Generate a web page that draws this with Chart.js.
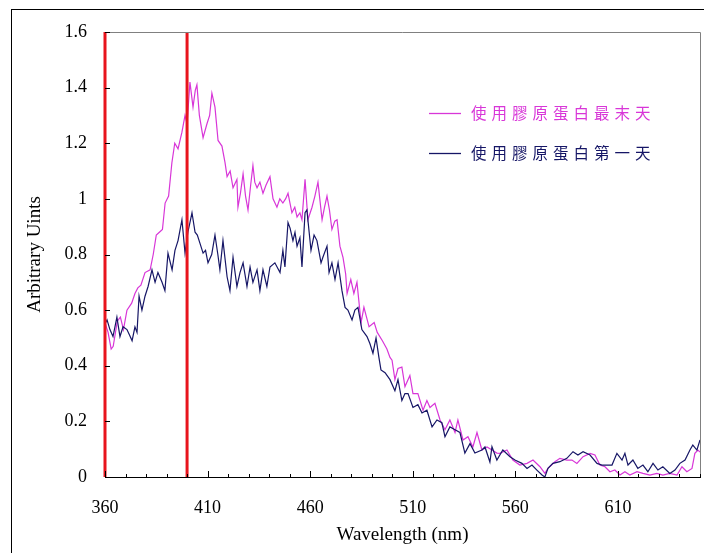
<!DOCTYPE html>
<html>
<head>
<meta charset="utf-8">
<script src="https://cdn.jsdelivr.net/npm/chart.js@4/dist/chart.umd.min.js"></script>
<style>
  html, body { margin: 0; padding: 0; background: #ffffff; }
  #wrap { width: 704px; height: 553px; }
</style>
</head>
<body>
<div id="wrap"><canvas id="c" width="704" height="553"></canvas></div>
<script>
// ---- data ----
const seriesNames = ['使用膠原蛋白最末天', '使用膠原蛋白第一天'];

const wlLast = [360,361.5,363,364,366,367.5,369,370.7,373,374.6,376,377.5,379.5,382,383.5,385,386.5,388,389.3,391,392.6,394,395.6,397.5,399,400,401.4,402.9,404,404.8,406,407.8,409.7,411,412.1,413.6,415.1,417,418.5,419.5,421,422.4,424.3,424.8,426,427.3,428.5,429.7,431,432.1,433,434.1,435.5,437,438.5,440.4,441.9,443.8,445.2,446.7,448,449.2,451.1,452.5,453.6,455,456,457.5,458.9,460.9,462.3,463.8,465.8,467,468.2,469.4,470.6,472,473.1,474.5,476,477.3,478,479.8,481.3,482.8,484.8,486.2,488.7,491.2,492.7,495.2,497.4,498.9,499.9,501.3,502.8,504.7,506.2,508.6,510.1,512.5,515,516.9,518.4,520.8,523.3,525.7,528.1,530.6,532,534.5,536.9,539.3,541.3,543.7,546.2,548.6,551,552.5,555.9,558.8,562.2,565.7,568.6,572,574.4,575.9,579.3,581.7,585.1,587.6,590,593,596.4,598.8,601.2,603.7,606.1,608.5,611,613.4,615.8,619.3,622.2,625.6,629,631.9,635.3,638.8,641.2,643.6,646.1,647.5,649,650];
const valLast = [0.555,0.52,0.46,0.47,0.56,0.575,0.53,0.60,0.625,0.66,0.68,0.69,0.735,0.745,0.80,0.87,0.88,0.89,0.985,1.01,1.13,1.2,1.18,1.24,1.30,1.27,1.42,1.33,1.39,1.41,1.30,1.22,1.27,1.30,1.38,1.33,1.21,1.19,1.13,1.08,1.10,1.04,1.07,0.97,1.02,1.09,1.01,0.96,1.05,1.12,1.06,1.04,1.06,1.02,1.05,1.08,1.0,0.97,1.0,0.985,1.0,1.02,0.95,0.97,0.935,0.95,0.925,1.07,0.925,0.97,1.01,1.06,0.925,0.97,1.01,0.96,0.89,0.92,0.925,0.83,0.79,0.73,0.66,0.71,0.66,0.70,0.555,0.61,0.54,0.555,0.52,0.49,0.46,0.43,0.42,0.35,0.39,0.395,0.325,0.365,0.30,0.30,0.24,0.275,0.25,0.265,0.205,0.17,0.205,0.16,0.205,0.133,0.145,0.108,0.16,0.097,0.108,0.097,0.086,0.085,0.097,0.061,0.043,0.049,0.061,0.037,0.013,0.031,0.055,0.067,0.061,0.061,0.049,0.073,0.085,0.079,0.043,0.037,0.019,0.025,0.007,0.019,0.007,0.019,0.013,0.007,0.013,0.007,0.013,0.007,0.037,0.019,0.031,0.085,0.097,0.09];

const wlFirst = [360,361,362.4,363.9,365.8,367.3,368.8,370.7,372,373.2,374.6,375.6,376.6,378,379.5,381,382.9,384.4,385.8,387.8,389.2,390.7,392.7,394.1,395.6,397.5,399,400.4,402.4,403.9,405,406.3,407.8,409,410.2,412,413.6,415,416,417.5,419.5,420.9,422.4,424.3,425.8,427.3,429.2,430.7,432.1,434.1,435.5,437,438.9,440.4,442.8,445.3,446.7,447.7,449.2,450.2,451.6,452.6,453.6,455,456,457.5,458.4,460.4,461.9,463.3,465.3,466.2,468.2,469.2,470.6,472.1,473.6,475.5,477,478.4,480.4,481.8,483.3,485.2,487.7,489.1,490.6,492.1,493.5,494.5,496.5,498.9,501.3,502.8,504.7,506.2,507.7,510.1,512.5,514.5,516.9,519.4,521.8,524.2,525.7,528.1,530.6,533,535.4,537.9,540.3,543.7,545.2,547.6,548.6,551,553.9,557.4,559.8,563.2,565.7,568.1,570.5,573,574.4,575.9,578.3,581.7,585.1,588.1,590.5,593,596.4,599.8,602.2,603.7,607.1,609.5,612,613.4,614.9,617.3,619.7,622.2,624.6,627.1,629.5,631.9,635.3,637.8,640.2,642.7,645.1,646.5,648.5,650];
const valFirst = [0.55,0.565,0.53,0.505,0.575,0.505,0.54,0.53,0.51,0.49,0.54,0.52,0.65,0.60,0.65,0.685,0.745,0.70,0.735,0.70,0.67,0.805,0.745,0.815,0.85,0.925,0.805,0.88,0.95,0.88,0.87,0.84,0.805,0.815,0.77,0.80,0.87,0.80,0.745,0.85,0.72,0.67,0.79,0.685,0.735,0.77,0.685,0.755,0.70,0.745,0.67,0.745,0.685,0.755,0.77,0.735,0.815,0.755,0.915,0.895,0.85,0.88,0.83,0.86,0.755,0.95,0.96,0.815,0.87,0.85,0.77,0.79,0.83,0.735,0.77,0.71,0.77,0.67,0.61,0.60,0.565,0.60,0.61,0.53,0.505,0.48,0.445,0.50,0.43,0.385,0.375,0.35,0.31,0.35,0.275,0.30,0.30,0.25,0.26,0.23,0.24,0.18,0.205,0.195,0.145,0.18,0.17,0.16,0.086,0.12,0.086,0.097,0.108,0.054,0.109,0.061,0.097,0.073,0.061,0.049,0.031,0.043,0.025,0.007,0.0,0.031,0.049,0.055,0.067,0.091,0.079,0.091,0.079,0.049,0.043,0.043,0.043,0.085,0.061,0.085,0.043,0.061,0.031,0.043,0.019,0.049,0.025,0.037,0.013,0.025,0.049,0.061,0.097,0.115,0.097,0.133];

const markerWavelengths = [360, 400];
const xMajorTicks = [360, 410, 460, 510, 560, 610];
const xRange = [360, 650];
const yRange = [0, 1.6];
const xTitle = 'Wavelength (nm)';
const yTitle = 'Arbitrary Uints';

// ---- styles ----
const colLast = '#d836d8';
const colFirst = '#161666';
const colMarker = '#e8141c';
const serif = '"Liberation Serif", "Times New Roman", serif';

function pts(xs, ys) { return xs.map((x, i) => ({ x: x, y: ys[i] })); }

const datasets = [];
markerWavelengths.forEach((w) => {
  datasets.push({
    label: 'marker' + w,
    data: [{ x: w, y: yRange[0] }, { x: w, y: yRange[1] }],
    borderColor: colMarker, borderWidth: 3, pointRadius: 0, clip: false, order: 0
  });
});
datasets.push({
  label: seriesNames[1], data: pts(wlFirst, valFirst),
  borderColor: colFirst, borderWidth: 1.2, pointRadius: 0, tension: 0, order: 1
});
datasets.push({
  label: seriesNames[0], data: pts(wlLast, valLast),
  borderColor: colLast, borderWidth: 1.2, pointRadius: 0, tension: 0, order: 2
});

const decor = {
  id: 'decor',
  afterDatasetsDraw(chart) {
    const ctx = chart.ctx, a = chart.chartArea;
    const xs = chart.scales.x, ys = chart.scales.y;
    ctx.save();
    // plot frame top & right
    ctx.strokeStyle = '#808080'; ctx.lineWidth = 1;
    ctx.beginPath();
    ctx.moveTo(a.left, a.top + 0.5); ctx.lineTo(a.right + 0.5, a.top + 0.5);
    ctx.lineTo(a.right + 0.5, a.bottom);
    ctx.stroke();
    // inward tick marks
    ctx.strokeStyle = '#000000';
    ctx.beginPath();
    for (let v = xRange[0]; v <= xRange[1]; v += 10) {
      const px = Math.round(xs.getPixelForValue(v)) + 0.5;
      const len = xMajorTicks.includes(v) ? 6 : 3;
      ctx.moveTo(px, a.bottom); ctx.lineTo(px, a.bottom - len);
    }
    for (let i = 0; i <= 8; i++) {
      const py = Math.round(ys.getPixelForValue(i * 0.2)) + 0.5;
      ctx.moveTo(a.left, py); ctx.lineTo(a.left + 5, py);
    }
    ctx.stroke();
    // legend
    const items = [
      { name: seriesNames[0], color: colLast, y: 113 },
      { name: seriesNames[1], color: colFirst, y: 153 }
    ];
    ctx.font = '15.5px "Noto Sans CJK TC", "Noto Sans CJK SC", sans-serif';
    ctx.textBaseline = 'middle';
    ctx.textAlign = 'left';
    if ('letterSpacing' in ctx) ctx.letterSpacing = '5px';
    items.forEach((it) => {
      ctx.strokeStyle = it.color; ctx.lineWidth = 1.3;
      ctx.beginPath(); ctx.moveTo(429, it.y + 0.5); ctx.lineTo(461, it.y + 0.5); ctx.stroke();
      ctx.fillStyle = it.color;
      ctx.fillText(it.name, 471, it.y);
    });
    ctx.restore();
  },
  afterDraw(chart) {
    const ctx = chart.ctx;
    ctx.save();
    ctx.strokeStyle = '#000000'; ctx.lineWidth = 1;
    ctx.strokeRect(11.5, 9.5, 900, 900);
    ctx.restore();
  }
};

new Chart(document.getElementById('c'), {
  type: 'line',
  data: { datasets: datasets },
  options: {
    responsive: false,
    animation: false,
    layout: { padding: { left: 0, right: 4, top: 32, bottom: 0 } },
    plugins: { legend: { display: false }, tooltip: { enabled: false } },
    elements: { line: { fill: false } },
    scales: {
      x: {
        type: 'linear', min: xRange[0], max: xRange[1],
        afterFit(s) { s.height = 76; },
        grid: { display: true, drawOnChartArea: false, drawTicks: true, tickLength: 17, tickColor: 'rgba(0,0,0,0)' },
        border: { display: true, color: '#000000', width: 1 },
        ticks: {
          stepSize: 10, autoSkip: false, maxRotation: 0, padding: 3,
          color: '#000000', font: { family: serif, size: 18 },
          callback: (v) => xMajorTicks.includes(Math.round(v)) ? String(Math.round(v)) : ''
        },
        title: { display: true, text: xTitle, color: '#000000',
                 font: { family: serif, size: 19 }, padding: { top: 0, bottom: 7 } }
      },
      y: {
        type: 'linear', min: yRange[0], max: yRange[1],
        afterFit(s) { s.width = 105; },
        grid: { display: false, drawTicks: false },
        border: { display: true, color: '#000000', width: 1 },
        ticks: {
          stepSize: 0.2, padding: 18, color: '#000000',
          font: { family: serif, size: 18 },
          callback: (v) => String(Math.round(v * 10) / 10)
        },
        title: { display: true, text: yTitle, color: '#000000',
                 font: { family: serif, size: 19 }, padding: { top: 24, bottom: 0 } }
      }
    }
  },
  plugins: [decor]
});
</script>
</body>
</html>
